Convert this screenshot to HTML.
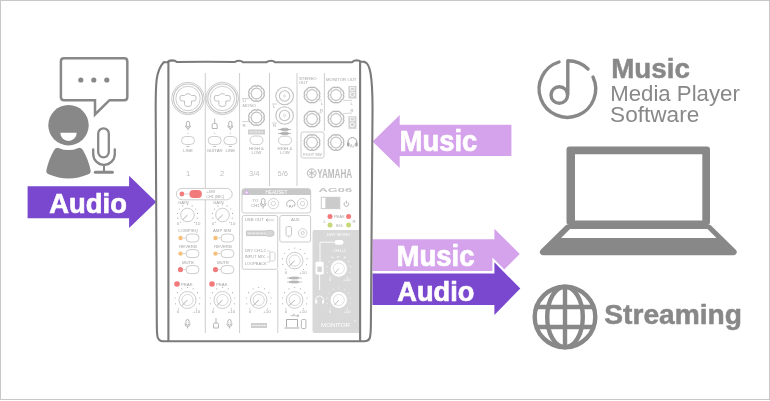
<!DOCTYPE html>
<html><head><meta charset="utf-8">
<style>
html,body{margin:0;padding:0;background:#fff;width:770px;height:401px;overflow:hidden}
svg{display:block;will-change:transform}
</style></head><body>
<svg width="770" height="401" viewBox="0 0 770 401" font-family="Liberation Sans, sans-serif">
<rect x="0" y="0" width="770" height="401" fill="#fff"/>
<rect x="0.5" y="0.5" width="769" height="399" fill="none" stroke="#c8c8c8" stroke-width="1"/>

<!-- speech bubble -->
<path d="M95 100.2 H64 Q60.9 100.2 60.9 97 V61.2 Q60.9 58.2 64 58.2 H124.3 Q127.3 58.2 127.3 61.2 V97 Q127.3 100.2 124.3 100.2 H109.5 L95 114.5 Z" fill="none" stroke="#888" stroke-width="2.5" stroke-linejoin="miter"/>
<circle cx="80.8" cy="80" r="2.6" fill="#888"/>
<circle cx="93.8" cy="80" r="2.6" fill="#888"/>
<circle cx="106.8" cy="80" r="2.6" fill="#888"/>

<!-- person -->
<circle cx="68.5" cy="125.2" r="20.2" fill="#888"/>
<path d="M60.3 132.7 H76.7 A8.2 8.2 0 0 1 60.3 132.7 Z" fill="#fff"/>
<path d="M58.5 147.9 Q55.5 147.6 54 150.2 Q48.6 159.5 46.4 170.2 Q45.9 173 48.6 174.2 Q68.5 182.6 88.4 174.2 Q91.1 173 90.6 170.2 Q88.4 159.5 83 150.2 Q81.5 147.6 78.5 147.9 A24.8 24.8 0 0 1 58.5 147.9 Z" fill="#888"/>

<!-- mic -->
<rect x="98.2" y="128.3" width="10.6" height="29" rx="5.3" fill="none" stroke="#888" stroke-width="2.3"/>
<path d="M93.2 149.3 V154 A10.8 10.8 0 0 0 114.8 154 V149.3" fill="none" stroke="#888" stroke-width="2.3" stroke-linecap="round"/>
<path d="M104 165 V172" stroke="#888" stroke-width="2.1"/>
<path d="M95.3 172.2 H112.4" stroke="#888" stroke-width="3" stroke-linecap="round"/>

<!-- Audio arrow left -->
<path d="M27.6 186.2 H129.1 V175.7 L156.2 201.9 L129.1 228 V218.2 H27.6 Z" fill="#7a48cf"/>
<text x="49.36" y="212.75" font-size="28.49" font-weight="bold" fill="#fff" stroke="#fff" stroke-width="0.7" textLength="77.5" lengthAdjust="spacingAndGlyphs">Audio</text>

<!-- Music arrow left -->
<path d="M511.4 124.8 H399.7 V115.1 L372.6 141.5 L399.7 167.9 V156.1 H511.4 Z" fill="#d5a3eb"/>
<text x="399.59" y="150.95" font-size="29.22" font-weight="bold" fill="#fff" stroke="#fff" stroke-width="0.7" textLength="77.79" lengthAdjust="spacingAndGlyphs">Music</text>

<!-- Music / Audio arrows right -->
<path d="M372.5 239.3 H494.4 V228.7 L519.8 254 L494.4 279.3 V271 H372.5 Z" fill="#d5a3eb"/>
<text x="396.56" y="265.55" font-size="28.71" font-weight="bold" fill="#fff" stroke="#fff" stroke-width="0.7" textLength="78.02" lengthAdjust="spacingAndGlyphs">Music</text>
<path d="M372.5 273.6 H494.4 V262.3 L520.3 288.6 L494.4 314.9 V305.1 H372.5 Z" fill="#fff" stroke="#fff" stroke-width="4" stroke-linejoin="miter"/>
<path d="M372.5 273.6 H494.4 V262.3 L520.3 288.6 L494.4 314.9 V305.1 H372.5 Z" fill="#7a48cf"/>
<text x="397.36" y="300.55" font-size="27.85" font-weight="bold" fill="#fff" stroke="#fff" stroke-width="0.7" textLength="76.95" lengthAdjust="spacingAndGlyphs">Audio</text>

<!-- music note icon -->
<path d="M593 77 A28.3 28.3 0 1 1 559 62" fill="none" stroke="#888" stroke-width="3.4" stroke-linecap="round"/>
<path d="M567.8 94 V60.7 A28.3 28.3 0 0 1 588 69" fill="none" stroke="#888" stroke-width="3.4" stroke-linecap="round" stroke-linejoin="round"/>
<circle cx="559.3" cy="95" r="8.3" fill="none" stroke="#888" stroke-width="3.4"/>
<text x="611.17" y="77.55" font-size="28.2" font-weight="bold" fill="#888" stroke="#888" stroke-width="0.5" textLength="78.76" lengthAdjust="spacingAndGlyphs">Music</text>
<text x="610.22" y="101.4" font-size="21.89" font-weight="normal" fill="#888" textLength="129.6" lengthAdjust="spacingAndGlyphs">Media Player</text>
<text x="610.07" y="121.8" font-size="21.89" font-weight="normal" fill="#888" textLength="89.19" lengthAdjust="spacingAndGlyphs">Software</text>

<!-- laptop -->
<path fill-rule="evenodd" fill="#888" d="M569.5 146.6 H707 Q710 146.6 710 149.6 V222 Q710 225 707 225 H569.5 Q566.5 225 566.5 222 V149.6 Q566.5 146.6 569.5 146.6 Z M575 154.2 V220.5 H702.3 V154.2 Z"/>
<path fill-rule="evenodd" fill="#888" d="M568 224.5 H708.5 Q710 224.5 711 225.5 L735.5 249.5 Q738 252 736 254 Q735 255.2 733 255.2 H543.5 Q541.5 255.2 540.5 254 Q538.8 252 541 249.5 L565.5 225.5 Q566.5 224.5 568 224.5 Z M570 228.9 L561 238 H716.5 L707.5 228.9 Z"/>
<!-- globe -->
<circle cx="565" cy="317" r="30.3" fill="none" stroke="#888" stroke-width="4.4"/>
<ellipse cx="565" cy="317" rx="17.8" ry="30.3" fill="none" stroke="#888" stroke-width="4.4"/>
<path d="M565 286 V348 M535 307 H595 M535 327 H595" stroke="#888" stroke-width="4.4"/>
<text x="604.28" y="324.05" font-size="26.83" font-weight="bold" fill="#888" stroke="#888" stroke-width="0.5" textLength="137.75" lengthAdjust="spacingAndGlyphs">Streaming</text>

<!-- MIXER START -->
<g font-family="Liberation Sans, sans-serif">
<path d="M312.5 232 Q312.5 230 314.5 230 H359.5 V333 H314.5 Q312.5 333 312.5 331 Z" fill="#d8d8d8"/>
<path d="M205.3 73 V333 M239.6 73 V333 M269.5 73 V186 M297 73 V186 M324.4 73 V131 M277.8 270 V333" stroke="#cdcdcd" stroke-width="1" fill="none"/>
<circle cx="188" cy="98.5" r="16.3" fill="none" stroke="#c6c6c6" stroke-width="0.9"/>
<circle cx="188" cy="98.5" r="14.5" fill="none" stroke="#c6c6c6" stroke-width="1.1"/>
<circle cx="188" cy="98.5" r="12.2" fill="none" stroke="#c6c6c6" stroke-width="0.9"/>
<path d="M180 97.0 Q180 95.5 182 95.5 H184.5 Q185.5 93.7 188 93.7 Q190.5 93.7 191.5 95.5 H194 Q196 95.5 196 97.0 V99.3 Q196 101.0 194 101.0 H191.5 V104.5 Q191.5 106.5 188 106.5 Q184.5 106.5 184.5 104.5 V101.0 H182 Q180 101.0 180 99.3 Z" fill="none" stroke="#c2c2c2" stroke-width="1.0"/>
<circle cx="222.3" cy="98.5" r="16.3" fill="none" stroke="#c6c6c6" stroke-width="0.9"/>
<circle cx="222.3" cy="98.5" r="14.5" fill="none" stroke="#c6c6c6" stroke-width="1.1"/>
<circle cx="222.3" cy="98.5" r="12.2" fill="none" stroke="#c6c6c6" stroke-width="0.9"/>
<path d="M214.3 97.0 Q214.3 95.5 216.3 95.5 H218.8 Q219.8 93.7 222.3 93.7 Q224.8 93.7 225.8 95.5 H228.3 Q230.3 95.5 230.3 97.0 V99.3 Q230.3 101.0 228.3 101.0 H225.8 V104.5 Q225.8 106.5 222.3 106.5 Q218.8 106.5 218.8 104.5 V101.0 H216.3 Q214.3 101.0 214.3 99.3 Z" fill="none" stroke="#c2c2c2" stroke-width="1.0"/>
<path d="M264.38 94.89 A8.0 8.0 0 0 1 263.05 98.09 L261.66 98.66 L261.09 100.05 A8.0 8.0 0 0 1 257.89 101.38 L256.50 100.80 L255.11 101.38 A8.0 8.0 0 0 1 251.91 100.05 L251.34 98.66 L249.95 98.09 A8.0 8.0 0 0 1 248.62 94.89 L249.20 93.50 L248.62 92.11 A8.0 8.0 0 0 1 249.95 88.91 L251.34 88.34 L251.91 86.95 A8.0 8.0 0 0 1 255.11 85.62 L256.50 86.20 L257.89 85.62 A8.0 8.0 0 0 1 261.09 86.95 L261.66 88.34 L263.05 88.91 A8.0 8.0 0 0 1 264.38 92.11 L263.80 93.50 Z" fill="none" stroke="#bcbcbc" stroke-width="1.3"/>
<circle cx="256.5" cy="93.5" r="5.3999999999999995" fill="none" stroke="#c2c2c2" stroke-width="1.2"/>
<path d="M264.38 118.89 A8.0 8.0 0 0 1 263.05 122.09 L261.66 122.66 L261.09 124.05 A8.0 8.0 0 0 1 257.89 125.38 L256.50 124.80 L255.11 125.38 A8.0 8.0 0 0 1 251.91 124.05 L251.34 122.66 L249.95 122.09 A8.0 8.0 0 0 1 248.62 118.89 L249.20 117.50 L248.62 116.11 A8.0 8.0 0 0 1 249.95 112.91 L251.34 112.34 L251.91 110.95 A8.0 8.0 0 0 1 255.11 109.62 L256.50 110.20 L257.89 109.62 A8.0 8.0 0 0 1 261.09 110.95 L261.66 112.34 L263.05 112.91 A8.0 8.0 0 0 1 264.38 116.11 L263.80 117.50 Z" fill="none" stroke="#bcbcbc" stroke-width="1.3"/>
<circle cx="256.5" cy="117.5" r="5.3999999999999995" fill="none" stroke="#c2c2c2" stroke-width="1.2"/>
<circle cx="284.6" cy="96" r="8.8" fill="none" stroke="#c2c2c2" stroke-width="1.1"/>
<circle cx="284.6" cy="96" r="5.2" fill="none" stroke="#c2c2c2" stroke-width="1.1"/>
<circle cx="284.6" cy="96" r="1.2" fill="none" stroke="#cdcdcd" stroke-width="0.7"/>
<circle cx="284.6" cy="115.5" r="8.8" fill="none" stroke="#c2c2c2" stroke-width="1.1"/>
<circle cx="284.6" cy="115.5" r="5.2" fill="none" stroke="#c2c2c2" stroke-width="1.1"/>
<circle cx="284.6" cy="115.5" r="1.2" fill="none" stroke="#cdcdcd" stroke-width="0.7"/>
<path d="M319.88 96.39 A8.0 8.0 0 0 1 318.55 99.59 L317.16 100.16 L316.59 101.55 A8.0 8.0 0 0 1 313.39 102.88 L312.00 102.30 L310.61 102.88 A8.0 8.0 0 0 1 307.41 101.55 L306.84 100.16 L305.45 99.59 A8.0 8.0 0 0 1 304.12 96.39 L304.70 95.00 L304.12 93.61 A8.0 8.0 0 0 1 305.45 90.41 L306.84 89.84 L307.41 88.45 A8.0 8.0 0 0 1 310.61 87.12 L312.00 87.70 L313.39 87.12 A8.0 8.0 0 0 1 316.59 88.45 L317.16 89.84 L318.55 90.41 A8.0 8.0 0 0 1 319.88 93.61 L319.30 95.00 Z" fill="none" stroke="#bcbcbc" stroke-width="1.3"/>
<circle cx="312" cy="95" r="5.3999999999999995" fill="none" stroke="#c2c2c2" stroke-width="1.2"/>
<path d="M319.88 120.39 A8.0 8.0 0 0 1 318.55 123.59 L317.16 124.16 L316.59 125.55 A8.0 8.0 0 0 1 313.39 126.88 L312.00 126.30 L310.61 126.88 A8.0 8.0 0 0 1 307.41 125.55 L306.84 124.16 L305.45 123.59 A8.0 8.0 0 0 1 304.12 120.39 L304.70 119.00 L304.12 117.61 A8.0 8.0 0 0 1 305.45 114.41 L306.84 113.84 L307.41 112.45 A8.0 8.0 0 0 1 310.61 111.12 L312.00 111.70 L313.39 111.12 A8.0 8.0 0 0 1 316.59 112.45 L317.16 113.84 L318.55 114.41 A8.0 8.0 0 0 1 319.88 117.61 L319.30 119.00 Z" fill="none" stroke="#bcbcbc" stroke-width="1.3"/>
<circle cx="312" cy="119" r="5.3999999999999995" fill="none" stroke="#c2c2c2" stroke-width="1.2"/>
<path d="M343.88 96.39 A8.0 8.0 0 0 1 342.55 99.59 L341.16 100.16 L340.59 101.55 A8.0 8.0 0 0 1 337.39 102.88 L336.00 102.30 L334.61 102.88 A8.0 8.0 0 0 1 331.41 101.55 L330.84 100.16 L329.45 99.59 A8.0 8.0 0 0 1 328.12 96.39 L328.70 95.00 L328.12 93.61 A8.0 8.0 0 0 1 329.45 90.41 L330.84 89.84 L331.41 88.45 A8.0 8.0 0 0 1 334.61 87.12 L336.00 87.70 L337.39 87.12 A8.0 8.0 0 0 1 340.59 88.45 L341.16 89.84 L342.55 90.41 A8.0 8.0 0 0 1 343.88 93.61 L343.30 95.00 Z" fill="none" stroke="#bcbcbc" stroke-width="1.3"/>
<circle cx="336" cy="95" r="5.3999999999999995" fill="none" stroke="#c2c2c2" stroke-width="1.2"/>
<path d="M343.88 120.39 A8.0 8.0 0 0 1 342.55 123.59 L341.16 124.16 L340.59 125.55 A8.0 8.0 0 0 1 337.39 126.88 L336.00 126.30 L334.61 126.88 A8.0 8.0 0 0 1 331.41 125.55 L330.84 124.16 L329.45 123.59 A8.0 8.0 0 0 1 328.12 120.39 L328.70 119.00 L328.12 117.61 A8.0 8.0 0 0 1 329.45 114.41 L330.84 113.84 L331.41 112.45 A8.0 8.0 0 0 1 334.61 111.12 L336.00 111.70 L337.39 111.12 A8.0 8.0 0 0 1 340.59 112.45 L341.16 113.84 L342.55 114.41 A8.0 8.0 0 0 1 343.88 117.61 L343.30 119.00 Z" fill="none" stroke="#bcbcbc" stroke-width="1.3"/>
<circle cx="336" cy="119" r="5.3999999999999995" fill="none" stroke="#c2c2c2" stroke-width="1.2"/>
<path d="M343.88 143.89 A8.0 8.0 0 0 1 342.55 147.09 L341.16 147.66 L340.59 149.05 A8.0 8.0 0 0 1 337.39 150.38 L336.00 149.80 L334.61 150.38 A8.0 8.0 0 0 1 331.41 149.05 L330.84 147.66 L329.45 147.09 A8.0 8.0 0 0 1 328.12 143.89 L328.70 142.50 L328.12 141.11 A8.0 8.0 0 0 1 329.45 137.91 L330.84 137.34 L331.41 135.95 A8.0 8.0 0 0 1 334.61 134.62 L336.00 135.20 L337.39 134.62 A8.0 8.0 0 0 1 340.59 135.95 L341.16 137.34 L342.55 137.91 A8.0 8.0 0 0 1 343.88 141.11 L343.30 142.50 Z" fill="none" stroke="#bcbcbc" stroke-width="1.3"/>
<circle cx="336" cy="142.5" r="5.3999999999999995" fill="none" stroke="#c2c2c2" stroke-width="1.2"/>
<path d="M319.88 143.89 A8.0 8.0 0 0 1 318.55 147.09 L317.16 147.66 L316.59 149.05 A8.0 8.0 0 0 1 313.39 150.38 L312.00 149.80 L310.61 150.38 A8.0 8.0 0 0 1 307.41 149.05 L306.84 147.66 L305.45 147.09 A8.0 8.0 0 0 1 304.12 143.89 L304.70 142.50 L304.12 141.11 A8.0 8.0 0 0 1 305.45 137.91 L306.84 137.34 L307.41 135.95 A8.0 8.0 0 0 1 310.61 134.62 L312.00 135.20 L313.39 134.62 A8.0 8.0 0 0 1 316.59 135.95 L317.16 137.34 L318.55 137.91 A8.0 8.0 0 0 1 319.88 141.11 L319.30 142.50 Z" fill="none" stroke="#bcbcbc" stroke-width="1.3"/>
<circle cx="312" cy="142.5" r="5.3999999999999995" fill="none" stroke="#c2c2c2" stroke-width="1.2"/>
<rect x="301" y="132" width="23" height="26" rx="2" fill="none" stroke="#cdcdcd" stroke-width="1"/>
<text x="312.5" y="156" font-size="4.0" fill="#a4a4a4" text-anchor="middle" font-weight="normal" >FOOT SW</text>
<text x="299" y="79.5" font-size="4.3" fill="#a4a4a4" text-anchor="start" font-weight="normal" >STEREO</text>
<text x="299" y="84" font-size="4.3" fill="#a4a4a4" text-anchor="start" font-weight="normal" >OUT</text>
<text x="326" y="80.5" font-size="4.3" fill="#a4a4a4" text-anchor="start" font-weight="normal" >MONITOR OUT</text>
<text x="321" y="104.8" font-size="4.0" fill="#a4a4a4" text-anchor="start" font-weight="normal" >L</text>
<text x="320" y="112" font-size="4.0" fill="#a4a4a4" text-anchor="start" font-weight="normal" >R</text>
<text x="350.5" y="104.8" font-size="4.0" fill="#a4a4a4" text-anchor="start" font-weight="normal" >L</text>
<text x="350.5" y="112" font-size="4.0" fill="#a4a4a4" text-anchor="start" font-weight="normal" >R</text>
<path d="M242 98.5 H249 M242 121.5 H249 M272 104 H277 M272 123 H277 M318.5 100 H322 M317 113.6 L322 112.6 M343.4 100.4 H352 M343.4 113.6 L352 113" stroke="#cdcdcd" stroke-width="0.8"/>
<text x="242.5" y="102" font-size="4.3" fill="#a4a4a4" text-anchor="start" font-weight="normal" >L/</text>
<text x="242.5" y="106.5" font-size="4.3" fill="#a4a4a4" text-anchor="start" font-weight="normal" >MONO</text>
<text x="242.5" y="126.5" font-size="4.3" fill="#a4a4a4" text-anchor="start" font-weight="normal" >R</text>
<text x="273" y="108" font-size="4.3" fill="#a4a4a4" text-anchor="start" font-weight="normal" >L</text>
<text x="273" y="127" font-size="4.3" fill="#a4a4a4" text-anchor="start" font-weight="normal" >R</text>
<rect x="348.4" y="86" width="8" height="12.5" fill="#d2d2d2"/>
<rect x="350.6" y="87.5" width="3.6" height="3" fill="none" stroke="#fff" stroke-width="0.7"/>
<circle cx="352.4" cy="94.3" r="2.2" fill="none" stroke="#fff" stroke-width="1"/>
<rect x="348.4" y="116.3" width="8" height="12.5" fill="#d2d2d2"/>
<rect x="350.6" y="117.8" width="3.6" height="3" fill="none" stroke="#fff" stroke-width="0.7"/>
<circle cx="352.4" cy="124.6" r="2.2" fill="none" stroke="#fff" stroke-width="1"/>
<path d="M348 145.5 V142 A4.4 4.4 0 0 1 356.8 142 V145.5" fill="none" stroke="#a4a4a4" stroke-width="1"/>
<rect x="347.2" y="142.5" width="2.3" height="4" rx="0.9" fill="#a4a4a4"/><rect x="355.3" y="142.5" width="2.3" height="4" rx="0.9" fill="#a4a4a4"/>
<path d="M350.3 147.5 L351.3 144.5 L352.3 147.5 M353.3 147.5 L354.3 144.5" stroke="#a4a4a4" stroke-width="0.6" fill="none"/>
<rect x="186.40" y="121.30" width="3.20" height="5.50" rx="1.60" fill="none" stroke="#a4a4a4" stroke-width="0.8"/>
<path d="M185.40 125.50 Q185.40 128.30 188 128.30 Q190.60 128.30 190.60 125.50 M188 128.30 V130.30" fill="none" stroke="#a4a4a4" stroke-width="0.8"/>
<path d="M214.7 118.5 V123.5 M212.2 128.5 V125.0 Q212.2 123.5 213.7 123.5 H215.7 Q217.2 123.5 217.2 125.0 V128.5 Z" fill="none" stroke="#a4a4a4" stroke-width="0.8"/>
<rect x="228.70" y="121.30" width="3.20" height="5.50" rx="1.60" fill="none" stroke="#a4a4a4" stroke-width="0.8"/>
<path d="M227.70 125.50 Q227.70 128.30 230.3 128.30 Q232.90 128.30 232.90 125.50 M230.3 128.30 V130.30" fill="none" stroke="#a4a4a4" stroke-width="0.8"/>
<text x="188" y="134" font-size="3.2" fill="#a4a4a4" text-anchor="middle" font-weight="normal" >+</text>
<rect x="181.50" y="136.50" width="13" height="8" rx="4.00" fill="#fff" stroke="#cdcdcd" stroke-width="1"/>
<line x1="186.5" y1="146.5" x2="189.5" y2="146.5" stroke="#a4a4a4" stroke-width="0.7"/>
<text x="214.7" y="134" font-size="3.2" fill="#a4a4a4" text-anchor="middle" font-weight="normal" >+</text>
<rect x="208.20" y="136.50" width="13" height="8" rx="4.00" fill="#fff" stroke="#cdcdcd" stroke-width="1"/>
<line x1="213.2" y1="146.5" x2="216.2" y2="146.5" stroke="#a4a4a4" stroke-width="0.7"/>
<text x="230.3" y="134" font-size="3.2" fill="#a4a4a4" text-anchor="middle" font-weight="normal" >+</text>
<rect x="223.80" y="136.50" width="13" height="8" rx="4.00" fill="#fff" stroke="#cdcdcd" stroke-width="1"/>
<line x1="228.8" y1="146.5" x2="231.8" y2="146.5" stroke="#a4a4a4" stroke-width="0.7"/>
<text x="188" y="152" font-size="4.3" fill="#a4a4a4" text-anchor="middle" font-weight="normal" >LINE</text>
<text x="214.7" y="152" font-size="4.3" fill="#a4a4a4" text-anchor="middle" font-weight="normal" >GUITAR</text>
<text x="230.3" y="152" font-size="4.3" fill="#a4a4a4" text-anchor="middle" font-weight="normal" >LINE</text>
<rect x="248" y="129.5" width="17" height="5" fill="#cfcfcf"/>
<path d="M249.5 132 H263.5" stroke="#fff" stroke-width="0.8" stroke-dasharray="2 0.8"/>
<path d="M278 129.5 H291 M280 129.5 L283 128.3 H287 L289 129.5 L287 130.7 H283 Z M278 133.5 H291 M280 133.5 L283 132.3 H287 L289 133.5 L287 134.7 H283 Z" stroke="#a4a4a4" stroke-width="0.7" fill="#cdcdcd"/>
<rect x="250.00" y="136.05" width="13" height="8.5" rx="4.25" fill="#fff" stroke="#cdcdcd" stroke-width="1"/>
<rect x="278.50" y="136.25" width="13" height="8.5" rx="4.25" fill="#fff" stroke="#cdcdcd" stroke-width="1"/>
<text x="256.5" y="149.5" font-size="4.3" fill="#a4a4a4" text-anchor="middle" font-weight="normal" >HIGH &amp;</text>
<text x="256.5" y="154" font-size="4.3" fill="#a4a4a4" text-anchor="middle" font-weight="normal" >LOW</text>
<text x="285" y="149.5" font-size="4.3" fill="#a4a4a4" text-anchor="middle" font-weight="normal" >HIGH &amp;</text>
<text x="285" y="154" font-size="4.3" fill="#a4a4a4" text-anchor="middle" font-weight="normal" >LOW</text>
<text x="188" y="175.6" font-size="7.6" fill="#c0c0c0" text-anchor="middle" font-weight="normal" >1</text>
<text x="222" y="175.6" font-size="7.6" fill="#c0c0c0" text-anchor="middle" font-weight="normal" >2</text>
<text x="254.2" y="175.6" font-size="7.6" fill="#c0c0c0" text-anchor="middle" font-weight="normal" textLength="10.5" lengthAdjust="spacingAndGlyphs">3/4</text>
<text x="282.8" y="175.6" font-size="7.6" fill="#c0c0c0" text-anchor="middle" font-weight="normal" textLength="10.5" lengthAdjust="spacingAndGlyphs">5/6</text>
<circle cx="311.7" cy="173.2" r="4.4" fill="none" stroke="#bdbdbd" stroke-width="1"/>
<path d="M311.7 169.5 V176.9 M308.5 171.4 L314.9 175 M314.9 171.4 L308.5 175" stroke="#bdbdbd" stroke-width="1"/>
<text x="317.2" y="177.9" font-size="12.6" fill="#bdbdbd" text-anchor="start" font-weight="bold" textLength="35" lengthAdjust="spacingAndGlyphs">YAMAHA</text>
<text x="318.5" y="192.3" font-size="5.9" fill="#c4c4c4" text-anchor="start" font-weight="bold" textLength="33.7" lengthAdjust="spacingAndGlyphs">AG06</text>
<rect x="176.4" y="188.4" width="55.8" height="11.4" rx="5.7" fill="#fff" stroke="#cdcdcd" stroke-width="1"/>
<circle cx="181.9" cy="194" r="2.4" fill="#f27a7a"/>
<line x1="184" y1="194" x2="189" y2="194" stroke="#cdcdcd" stroke-width="0.8"/>
<rect x="189.4" y="190" width="12.5" height="8.1" rx="4" fill="#f27a7a"/>
<text x="206.2" y="193.4" font-size="3.8" fill="#a4a4a4" text-anchor="start" font-weight="normal" >+48V</text>
<text x="206.2" y="198" font-size="3.8" fill="#a4a4a4" text-anchor="start" font-weight="normal" >CH1 (MIC)</text>
<text x="178" y="203.5" font-size="4.3" fill="#a4a4a4" text-anchor="start" font-weight="normal" >GAIN</text>
<circle cx="187.5" cy="215" r="6.8" fill="none" stroke="#cdcdcd" stroke-width="1"/>
<line x1="187.5" y1="215" x2="182.93" y2="219.57" stroke="#a4a4a4" stroke-width="0.9"/>
<circle cx="180.29" cy="222.21" r="0.55" fill="#a4a4a4"/>
<circle cx="177.80" cy="218.15" r="0.55" fill="#a4a4a4"/>
<circle cx="177.43" cy="213.40" r="0.55" fill="#a4a4a4"/>
<circle cx="179.25" cy="209.00" r="0.55" fill="#a4a4a4"/>
<circle cx="182.87" cy="205.91" r="0.55" fill="#a4a4a4"/>
<circle cx="187.50" cy="204.80" r="0.55" fill="#a4a4a4"/>
<circle cx="192.13" cy="205.91" r="0.55" fill="#a4a4a4"/>
<circle cx="195.75" cy="209.00" r="0.55" fill="#a4a4a4"/>
<circle cx="197.57" cy="213.40" r="0.55" fill="#a4a4a4"/>
<circle cx="197.20" cy="218.15" r="0.55" fill="#a4a4a4"/>
<circle cx="194.71" cy="222.21" r="0.55" fill="#a4a4a4"/>
<text x="178" y="225" font-size="4.3" fill="#a4a4a4" text-anchor="middle" font-weight="normal" >0</text>
<text x="198" y="225" font-size="4.3" fill="#a4a4a4" text-anchor="middle" font-weight="normal" >10</text>
<circle cx="180.5" cy="238" r="2.2" fill="#f5c07a"/>
<line x1="182.5" y1="238" x2="186" y2="238" stroke="#cdcdcd" stroke-width="0.8"/>
<rect x="186.00" y="234.00" width="13" height="8" rx="4.00" fill="#fff" stroke="#cdcdcd" stroke-width="1"/>
<circle cx="180.5" cy="253.6" r="2.2" fill="#f5c07a"/>
<line x1="182.5" y1="253.6" x2="186" y2="253.6" stroke="#cdcdcd" stroke-width="0.8"/>
<rect x="186.00" y="249.60" width="13" height="8" rx="4.00" fill="#fff" stroke="#cdcdcd" stroke-width="1"/>
<text x="188" y="248" font-size="4.3" fill="#a4a4a4" text-anchor="middle" font-weight="normal" >REVERB</text>
<text x="188" y="264" font-size="4.3" fill="#a4a4a4" text-anchor="middle" font-weight="normal" >MUTE</text>
<circle cx="180.5" cy="269.6" r="2.6" fill="#f27a7a"/>
<line x1="182.5" y1="269.6" x2="186" y2="269.6" stroke="#cdcdcd" stroke-width="0.8"/>
<rect x="186.00" y="265.60" width="13" height="8" rx="4.00" fill="#fff" stroke="#cdcdcd" stroke-width="1"/>
<circle cx="177" cy="284" r="2.8" fill="#f27a7a"/>
<text x="181" y="286" font-size="4.4" fill="#a4a4a4" text-anchor="start" font-weight="normal" >PEAK</text>
<circle cx="187.5" cy="300" r="8.5" fill="none" stroke="#cdcdcd" stroke-width="1"/>
<circle cx="187.5" cy="300" r="5.6" fill="none" stroke="#cdcdcd" stroke-width="0.8"/>
<line x1="187.5" y1="300" x2="181.79" y2="305.71" stroke="#a4a4a4" stroke-width="0.9"/>
<circle cx="178.66" cy="308.84" r="0.55" fill="#a4a4a4"/>
<circle cx="175.61" cy="303.86" r="0.55" fill="#a4a4a4"/>
<circle cx="175.15" cy="298.04" r="0.55" fill="#a4a4a4"/>
<circle cx="177.39" cy="292.65" r="0.55" fill="#a4a4a4"/>
<circle cx="181.83" cy="288.86" r="0.55" fill="#a4a4a4"/>
<circle cx="187.50" cy="287.50" r="0.55" fill="#a4a4a4"/>
<circle cx="193.17" cy="288.86" r="0.55" fill="#a4a4a4"/>
<circle cx="197.61" cy="292.65" r="0.55" fill="#a4a4a4"/>
<circle cx="199.85" cy="298.04" r="0.55" fill="#a4a4a4"/>
<circle cx="199.39" cy="303.86" r="0.55" fill="#a4a4a4"/>
<circle cx="196.34" cy="308.84" r="0.55" fill="#a4a4a4"/>
<text x="178" y="313" font-size="4.4" fill="#a4a4a4" text-anchor="middle" font-weight="normal" >0</text>
<text x="196.5" y="313" font-size="4.4" fill="#a4a4a4" text-anchor="middle" font-weight="normal" >+10</text>
<text x="213" y="203.5" font-size="4.3" fill="#a4a4a4" text-anchor="start" font-weight="normal" >GAIN</text>
<circle cx="222.5" cy="215" r="6.8" fill="none" stroke="#cdcdcd" stroke-width="1"/>
<line x1="222.5" y1="215" x2="217.93" y2="219.57" stroke="#a4a4a4" stroke-width="0.9"/>
<circle cx="215.29" cy="222.21" r="0.55" fill="#a4a4a4"/>
<circle cx="212.80" cy="218.15" r="0.55" fill="#a4a4a4"/>
<circle cx="212.43" cy="213.40" r="0.55" fill="#a4a4a4"/>
<circle cx="214.25" cy="209.00" r="0.55" fill="#a4a4a4"/>
<circle cx="217.87" cy="205.91" r="0.55" fill="#a4a4a4"/>
<circle cx="222.50" cy="204.80" r="0.55" fill="#a4a4a4"/>
<circle cx="227.13" cy="205.91" r="0.55" fill="#a4a4a4"/>
<circle cx="230.75" cy="209.00" r="0.55" fill="#a4a4a4"/>
<circle cx="232.57" cy="213.40" r="0.55" fill="#a4a4a4"/>
<circle cx="232.20" cy="218.15" r="0.55" fill="#a4a4a4"/>
<circle cx="229.71" cy="222.21" r="0.55" fill="#a4a4a4"/>
<text x="213" y="225" font-size="4.3" fill="#a4a4a4" text-anchor="middle" font-weight="normal" >0</text>
<text x="233" y="225" font-size="4.3" fill="#a4a4a4" text-anchor="middle" font-weight="normal" >10</text>
<circle cx="215.5" cy="238" r="2.2" fill="#f5c07a"/>
<line x1="217.5" y1="238" x2="221" y2="238" stroke="#cdcdcd" stroke-width="0.8"/>
<rect x="221.00" y="234.00" width="13" height="8" rx="4.00" fill="#fff" stroke="#cdcdcd" stroke-width="1"/>
<circle cx="215.5" cy="253.6" r="2.2" fill="#f5c07a"/>
<line x1="217.5" y1="253.6" x2="221" y2="253.6" stroke="#cdcdcd" stroke-width="0.8"/>
<rect x="221.00" y="249.60" width="13" height="8" rx="4.00" fill="#fff" stroke="#cdcdcd" stroke-width="1"/>
<text x="223" y="248" font-size="4.3" fill="#a4a4a4" text-anchor="middle" font-weight="normal" >REVERB</text>
<text x="223" y="264" font-size="4.3" fill="#a4a4a4" text-anchor="middle" font-weight="normal" >MUTE</text>
<circle cx="215.5" cy="269.6" r="2.6" fill="#f27a7a"/>
<line x1="217.5" y1="269.6" x2="221" y2="269.6" stroke="#cdcdcd" stroke-width="0.8"/>
<rect x="221.00" y="265.60" width="13" height="8" rx="4.00" fill="#fff" stroke="#cdcdcd" stroke-width="1"/>
<circle cx="212" cy="284" r="2.8" fill="#f27a7a"/>
<text x="216" y="286" font-size="4.4" fill="#a4a4a4" text-anchor="start" font-weight="normal" >PEAK</text>
<circle cx="222.5" cy="300" r="8.5" fill="none" stroke="#cdcdcd" stroke-width="1"/>
<circle cx="222.5" cy="300" r="5.6" fill="none" stroke="#cdcdcd" stroke-width="0.8"/>
<line x1="222.5" y1="300" x2="216.79" y2="305.71" stroke="#a4a4a4" stroke-width="0.9"/>
<circle cx="213.66" cy="308.84" r="0.55" fill="#a4a4a4"/>
<circle cx="210.61" cy="303.86" r="0.55" fill="#a4a4a4"/>
<circle cx="210.15" cy="298.04" r="0.55" fill="#a4a4a4"/>
<circle cx="212.39" cy="292.65" r="0.55" fill="#a4a4a4"/>
<circle cx="216.83" cy="288.86" r="0.55" fill="#a4a4a4"/>
<circle cx="222.50" cy="287.50" r="0.55" fill="#a4a4a4"/>
<circle cx="228.17" cy="288.86" r="0.55" fill="#a4a4a4"/>
<circle cx="232.61" cy="292.65" r="0.55" fill="#a4a4a4"/>
<circle cx="234.85" cy="298.04" r="0.55" fill="#a4a4a4"/>
<circle cx="234.39" cy="303.86" r="0.55" fill="#a4a4a4"/>
<circle cx="231.34" cy="308.84" r="0.55" fill="#a4a4a4"/>
<text x="213" y="313" font-size="4.4" fill="#a4a4a4" text-anchor="middle" font-weight="normal" >0</text>
<text x="231.5" y="313" font-size="4.4" fill="#a4a4a4" text-anchor="middle" font-weight="normal" >+10</text>
<text x="188" y="231.5" font-size="4.3" fill="#a4a4a4" text-anchor="middle" font-weight="normal" >COMP/EQ</text>
<text x="222" y="231.5" font-size="4.3" fill="#a4a4a4" text-anchor="middle" font-weight="normal" >AMP SIM</text>
<rect x="185.90" y="319.50" width="3.20" height="5.50" rx="1.60" fill="none" stroke="#a4a4a4" stroke-width="0.8"/>
<path d="M184.90 323.70 Q184.90 326.50 187.5 326.50 Q190.10 326.50 190.10 323.70 M187.5 326.50 V328.50" fill="none" stroke="#a4a4a4" stroke-width="0.8"/>
<path d="M216 318 V323 M213.5 328 V324.5 Q213.5 323 215 323 H217 Q218.5 323 218.5 324.5 V328 Z" fill="none" stroke="#a4a4a4" stroke-width="0.8"/>
<rect x="227.90" y="319.50" width="3.20" height="5.50" rx="1.60" fill="none" stroke="#a4a4a4" stroke-width="0.8"/>
<path d="M226.90 323.70 Q226.90 326.50 229.5 326.50 Q232.10 326.50 232.10 323.70 M229.5 326.50 V328.50" fill="none" stroke="#a4a4a4" stroke-width="0.8"/>
<rect x="242" y="188.7" width="68.7" height="24.3" rx="2.5" fill="#fff" stroke="#cdcdcd" stroke-width="1"/>
<path d="M242 195 V190.7 Q242 188.7 244 188.7 H308.7 Q310.7 188.7 310.7 190.7 V195 Z" fill="#c8c8c8"/>
<circle cx="246.7" cy="192.6" r="1.8" fill="#f0e0f8" stroke="#d0a8e8" stroke-width="1"/>
<text x="276.4" y="193.8" font-size="4.6" fill="#fff" text-anchor="middle" font-weight="normal" >HEADSET</text>
<text x="255.4" y="202" font-size="4.3" fill="#a4a4a4" text-anchor="middle" font-weight="normal" >TO</text>
<text x="255.4" y="206.5" font-size="4.3" fill="#a4a4a4" text-anchor="middle" font-weight="normal" >CH1</text>
<rect x="261.44" y="198.60" width="3.52" height="6.05" rx="1.76" fill="none" stroke="#a4a4a4" stroke-width="0.8"/>
<path d="M260.34 203.22 Q260.34 206.30 263.2 206.30 Q266.06 206.30 266.06 203.22 M263.2 206.30 V208.50" fill="none" stroke="#a4a4a4" stroke-width="0.8"/>
<circle cx="273.4" cy="203.6" r="5.2" fill="none" stroke="#cdcdcd" stroke-width="0.9"/>
<circle cx="273.4" cy="203.6" r="2.2" fill="none" stroke="#cdcdcd" stroke-width="0.8"/>
<circle cx="302.5" cy="203.6" r="5.2" fill="none" stroke="#cdcdcd" stroke-width="0.9"/>
<circle cx="302.5" cy="203.6" r="2.2" fill="none" stroke="#cdcdcd" stroke-width="0.8"/>
<path d="M287.2 206.5 A4.2 4.2 0 1 1 294.4 206.5 M289 207.5 L290 205 L291 207.5 M292 207.5 L293 205" fill="none" stroke="#a4a4a4" stroke-width="0.8"/>
<rect x="242.2" y="215.5" width="35.5" height="53.8" rx="2" fill="none" stroke="#cdcdcd" stroke-width="1"/>
<text x="244.7" y="220.6" font-size="4.3" fill="#a4a4a4" text-anchor="start" font-weight="normal" >USB OUT</text>
<path d="M266 220 H274 M268 218.5 L266 220 L268 221.5" stroke="#a4a4a4" stroke-width="0.6" fill="none"/>
<path d="M246.5 231 Q246.2 233.2 246.5 235.6 H266 L268 236.2 H271.5 Q274 236.2 274 233.3 Q274 230.4 271.5 230.4 H268 L266 231 Z" fill="#d6d6d6" stroke="#c2c2c2" stroke-width="0.9"/>
<path d="M248 233.3 H265.5" stroke="#f2f2f2" stroke-width="0.9" stroke-dasharray="3 1"/>
<text x="244.7" y="252.2" font-size="4.0" fill="#a4a4a4" text-anchor="start" font-weight="normal" >DRY CH1-2</text>
<text x="244.7" y="258.2" font-size="4.0" fill="#a4a4a4" text-anchor="start" font-weight="normal" >INPUT MIX</text>
<text x="244.7" y="264.8" font-size="4.0" fill="#a4a4a4" text-anchor="start" font-weight="normal" >LOOPBACK</text>
<path d="M267 251 H270 V262 H267 M267 257 H270" stroke="#cdcdcd" stroke-width="0.7" fill="none"/>
<rect x="270" y="252" width="5" height="9" rx="1.5" fill="#fff" stroke="#cdcdcd" stroke-width="0.8"/>
<rect x="279.8" y="215.5" width="30.8" height="26.5" rx="2" fill="none" stroke="#cdcdcd" stroke-width="1"/>
<text x="295.3" y="220.6" font-size="4.3" fill="#a4a4a4" text-anchor="middle" font-weight="normal" >AUX</text>
<rect x="286" y="226.5" width="5.5" height="9.5" rx="1.5" fill="none" stroke="#c4c4c4" stroke-width="0.9"/>
<path d="M288.7 236 V238" stroke="#cdcdcd" stroke-width="0.7"/>
<circle cx="302.7" cy="233" r="4.3" fill="none" stroke="#cdcdcd" stroke-width="0.9"/><circle cx="302.7" cy="233" r="1.6" fill="none" stroke="#c4c4c4" stroke-width="0.8"/>
<rect x="321.3" y="197.3" width="18.5" height="11.3" fill="#fff" stroke="#cdcdcd" stroke-width="1"/>
<rect x="325.4" y="197.3" width="14.4" height="11.3" fill="#cbcbcb"/>
<path d="M344.9 202.3 A2.3 2.3 0 1 0 347.9 202.3 M346.4 200.6 V203.5" fill="none" stroke="#a4a4a4" stroke-width="0.8"/>
<circle cx="330" cy="216.4" r="2.5" fill="#f27a7a"/>
<circle cx="348.6" cy="216.4" r="2.5" fill="#f27a7a"/>
<text x="339.3" y="217.8" font-size="4.0" fill="#a4a4a4" text-anchor="middle" font-weight="normal" >PEAK</text>
<circle cx="330" cy="225" r="2.5" fill="#c8d77a"/>
<circle cx="348.6" cy="225" r="2.5" fill="#c8d77a"/>
<text x="339.3" y="226.5" font-size="4.0" fill="#a4a4a4" text-anchor="middle" font-weight="normal" >SIG</text>
<text x="324.6" y="223" font-size="4.3" fill="#a4a4a4" text-anchor="middle" font-weight="normal" >L</text>
<text x="354" y="223" font-size="4.3" fill="#a4a4a4" text-anchor="middle" font-weight="normal" >R</text>
<circle cx="258.7" cy="300" r="8.3" fill="none" stroke="#cdcdcd" stroke-width="1"/>
<circle cx="258.7" cy="300" r="5.6" fill="none" stroke="#cdcdcd" stroke-width="0.8"/>
<line x1="258.7" y1="300" x2="253.12" y2="305.58" stroke="#a4a4a4" stroke-width="0.9"/>
<circle cx="249.86" cy="308.84" r="0.55" fill="#a4a4a4"/>
<circle cx="246.81" cy="303.86" r="0.55" fill="#a4a4a4"/>
<circle cx="246.35" cy="298.04" r="0.55" fill="#a4a4a4"/>
<circle cx="248.59" cy="292.65" r="0.55" fill="#a4a4a4"/>
<circle cx="253.03" cy="288.86" r="0.55" fill="#a4a4a4"/>
<circle cx="258.70" cy="287.50" r="0.55" fill="#a4a4a4"/>
<circle cx="264.37" cy="288.86" r="0.55" fill="#a4a4a4"/>
<circle cx="268.81" cy="292.65" r="0.55" fill="#a4a4a4"/>
<circle cx="271.05" cy="298.04" r="0.55" fill="#a4a4a4"/>
<circle cx="270.59" cy="303.86" r="0.55" fill="#a4a4a4"/>
<circle cx="267.54" cy="308.84" r="0.55" fill="#a4a4a4"/>
<text x="250" y="313" font-size="4.4" fill="#a4a4a4" text-anchor="middle" font-weight="normal" >0</text>
<text x="267" y="313" font-size="4.4" fill="#a4a4a4" text-anchor="middle" font-weight="normal" >+10</text>
<circle cx="294.7" cy="260.6" r="8.3" fill="none" stroke="#cdcdcd" stroke-width="1"/>
<circle cx="294.7" cy="260.6" r="5.6" fill="none" stroke="#cdcdcd" stroke-width="0.8"/>
<line x1="294.7" y1="260.6" x2="289.12" y2="266.18" stroke="#a4a4a4" stroke-width="0.9"/>
<circle cx="285.86" cy="269.44" r="0.55" fill="#a4a4a4"/>
<circle cx="282.81" cy="264.46" r="0.55" fill="#a4a4a4"/>
<circle cx="282.35" cy="258.64" r="0.55" fill="#a4a4a4"/>
<circle cx="284.59" cy="253.25" r="0.55" fill="#a4a4a4"/>
<circle cx="289.03" cy="249.46" r="0.55" fill="#a4a4a4"/>
<circle cx="294.70" cy="248.10" r="0.55" fill="#a4a4a4"/>
<circle cx="300.37" cy="249.46" r="0.55" fill="#a4a4a4"/>
<circle cx="304.81" cy="253.25" r="0.55" fill="#a4a4a4"/>
<circle cx="307.05" cy="258.64" r="0.55" fill="#a4a4a4"/>
<circle cx="306.59" cy="264.46" r="0.55" fill="#a4a4a4"/>
<circle cx="303.54" cy="269.44" r="0.55" fill="#a4a4a4"/>
<text x="286" y="273.5" font-size="4.4" fill="#a4a4a4" text-anchor="middle" font-weight="normal" >0</text>
<text x="303" y="273.5" font-size="4.4" fill="#a4a4a4" text-anchor="middle" font-weight="normal" >+10</text>
<circle cx="294.7" cy="300" r="8.3" fill="none" stroke="#cdcdcd" stroke-width="1"/>
<circle cx="294.7" cy="300" r="5.6" fill="none" stroke="#cdcdcd" stroke-width="0.8"/>
<line x1="294.7" y1="300" x2="289.12" y2="305.58" stroke="#a4a4a4" stroke-width="0.9"/>
<circle cx="285.86" cy="308.84" r="0.55" fill="#a4a4a4"/>
<circle cx="282.81" cy="303.86" r="0.55" fill="#a4a4a4"/>
<circle cx="282.35" cy="298.04" r="0.55" fill="#a4a4a4"/>
<circle cx="284.59" cy="292.65" r="0.55" fill="#a4a4a4"/>
<circle cx="289.03" cy="288.86" r="0.55" fill="#a4a4a4"/>
<circle cx="294.70" cy="287.50" r="0.55" fill="#a4a4a4"/>
<circle cx="300.37" cy="288.86" r="0.55" fill="#a4a4a4"/>
<circle cx="304.81" cy="292.65" r="0.55" fill="#a4a4a4"/>
<circle cx="307.05" cy="298.04" r="0.55" fill="#a4a4a4"/>
<circle cx="306.59" cy="303.86" r="0.55" fill="#a4a4a4"/>
<circle cx="303.54" cy="308.84" r="0.55" fill="#a4a4a4"/>
<text x="286" y="313" font-size="4.4" fill="#a4a4a4" text-anchor="middle" font-weight="normal" >0</text>
<text x="303" y="313" font-size="4.4" fill="#a4a4a4" text-anchor="middle" font-weight="normal" >+10</text>
<path d="M287 278 H302 M289 278 L292 277 H297 L299 278 L297 279 H292 Z M287 282 H302 M289 282 L292 281 H297 L299 282 L297 283 H292 Z" stroke="#a4a4a4" stroke-width="0.6" fill="#cdcdcd"/>
<rect x="251" y="323" width="16" height="5" fill="#cfcfcf"/>
<path d="M252.5 325.5 H265.5" stroke="#fff" stroke-width="0.8" stroke-dasharray="2 0.8"/>
<path d="M286.5 327 V319.5 H297.5 V327 M284.5 328 H299.5" fill="none" stroke="#a4a4a4" stroke-width="0.9"/>
<path d="M290.5 315.7 H299 M297 314.5 L299 315.7 L297 316.9 M292.5 315.7 L293.5 314.3 H295" stroke="#a4a4a4" stroke-width="0.6" fill="none"/>
<rect x="301.4" y="319.5" width="4.5" height="9" rx="1" fill="none" stroke="#a4a4a4" stroke-width="0.8"/>
<text x="338.7" y="236" font-size="4.3" fill="#fff" text-anchor="middle" font-weight="normal" >DRY MONO</text>
<rect x="334.5" y="240" width="9" height="4.8" rx="2.4" fill="#fff"/>
<text x="339.4" y="252.3" font-size="4.3" fill="#fff" text-anchor="middle" font-weight="normal" >CH1-2</text>
<path d="M334.5 242.2 H320 V262 M319.6 274 V290" stroke="#fff" stroke-width="0.9" fill="none"/>
<rect x="315.5" y="261.7" width="8.2" height="12.7" rx="1.2" fill="#fff"/>
<rect x="317.3" y="266.5" width="4.6" height="5.5" rx="0.8" fill="#d6d6d6"/>
<path d="M331 257.2 H333 M337.5 256.5 V258 M344 257.2 H346" stroke="#fff" stroke-width="0.7"/>
<circle cx="338.8" cy="268.5" r="8.2" fill="#fff"/>
<circle cx="338.8" cy="268.5" r="5.5" fill="none" stroke="#d8d8d8" stroke-width="0.8"/>
<line x1="338.8" y1="268.5" x2="334.5" y2="273.5" stroke="#b8b8b8" stroke-width="0.9"/>
<circle cx="330.31" cy="276.99" r="0.55" fill="#fff"/>
<circle cx="327.39" cy="272.21" r="0.55" fill="#fff"/>
<circle cx="326.95" cy="266.62" r="0.55" fill="#fff"/>
<circle cx="329.09" cy="261.45" r="0.55" fill="#fff"/>
<circle cx="333.35" cy="257.81" r="0.55" fill="#fff"/>
<circle cx="338.80" cy="256.50" r="0.55" fill="#fff"/>
<circle cx="344.25" cy="257.81" r="0.55" fill="#fff"/>
<circle cx="348.51" cy="261.45" r="0.55" fill="#fff"/>
<circle cx="350.65" cy="266.62" r="0.55" fill="#fff"/>
<circle cx="350.21" cy="272.21" r="0.55" fill="#fff"/>
<circle cx="347.29" cy="276.99" r="0.55" fill="#fff"/>
<text x="330" y="281.0" font-size="4.3" fill="#fff" text-anchor="middle" font-weight="normal" >0</text>
<text x="347" y="281.0" font-size="4.3" fill="#fff" text-anchor="middle" font-weight="normal" >+10</text>
<circle cx="338.8" cy="300" r="8.2" fill="#fff"/>
<circle cx="338.8" cy="300" r="5.5" fill="none" stroke="#d8d8d8" stroke-width="0.8"/>
<line x1="338.8" y1="300" x2="334.5" y2="305" stroke="#b8b8b8" stroke-width="0.9"/>
<circle cx="330.31" cy="308.49" r="0.55" fill="#fff"/>
<circle cx="327.39" cy="303.71" r="0.55" fill="#fff"/>
<circle cx="326.95" cy="298.12" r="0.55" fill="#fff"/>
<circle cx="329.09" cy="292.95" r="0.55" fill="#fff"/>
<circle cx="333.35" cy="289.31" r="0.55" fill="#fff"/>
<circle cx="338.80" cy="288.00" r="0.55" fill="#fff"/>
<circle cx="344.25" cy="289.31" r="0.55" fill="#fff"/>
<circle cx="348.51" cy="292.95" r="0.55" fill="#fff"/>
<circle cx="350.65" cy="298.12" r="0.55" fill="#fff"/>
<circle cx="350.21" cy="303.71" r="0.55" fill="#fff"/>
<circle cx="347.29" cy="308.49" r="0.55" fill="#fff"/>
<text x="330" y="312.5" font-size="4.3" fill="#fff" text-anchor="middle" font-weight="normal" >0</text>
<text x="347" y="312.5" font-size="4.3" fill="#fff" text-anchor="middle" font-weight="normal" >+10</text>
<path d="M316.3 302.5 A4.1 4.1 0 1 1 323 302.5" fill="none" stroke="#fff" stroke-width="0.9"/>
<rect x="315.4" y="300" width="1.8" height="3.8" rx="0.8" fill="#fff"/><rect x="322.1" y="300" width="1.8" height="3.8" rx="0.8" fill="#fff"/>
<circle cx="355" cy="321" r="0.7" fill="#fff"/>
<text x="335.5" y="327" font-size="5.0" fill="#fff" text-anchor="middle" font-weight="normal" textLength="29" lengthAdjust="spacingAndGlyphs">MONITOR</text>
<g fill="none" stroke="#7b7b7b" stroke-linecap="round" stroke-linejoin="round">
<path d="M163.8 62.3 H167.3 Q168.8 60.4 172 60.4 Q175.3 60.5 176.8 62 Q205 61.6 235 62 Q236.5 60.8 239 60.8 Q241.5 60.8 243 62.2 H266.5 Q268.5 60.8 271 60.8 Q273.5 60.8 275 62.3 H352.2 Q353.5 60.2 356.3 60.2 Q359.5 60.3 360.5 61.7 H364.6" stroke-width="2.1"/>
<path d="M163.8 62.3 Q158.2 68 156.6 80 Q155.6 90 155.7 110 L156.8 322 Q156.8 334 157.6 337 Q158.8 341.2 163 341.2 H364 Q368.5 341.2 369.8 338 Q370.9 334 370.9 322 L372.5 115 Q372.8 86 370.5 73 Q368.5 62.3 364.6 62.2" stroke-width="2.1"/>
<path d="M168.4 61.6 V341 M360.1 61.6 V341" stroke-width="2.1"/>
</g>
</g>
<!-- MIXER END -->
</svg>
</body></html>
